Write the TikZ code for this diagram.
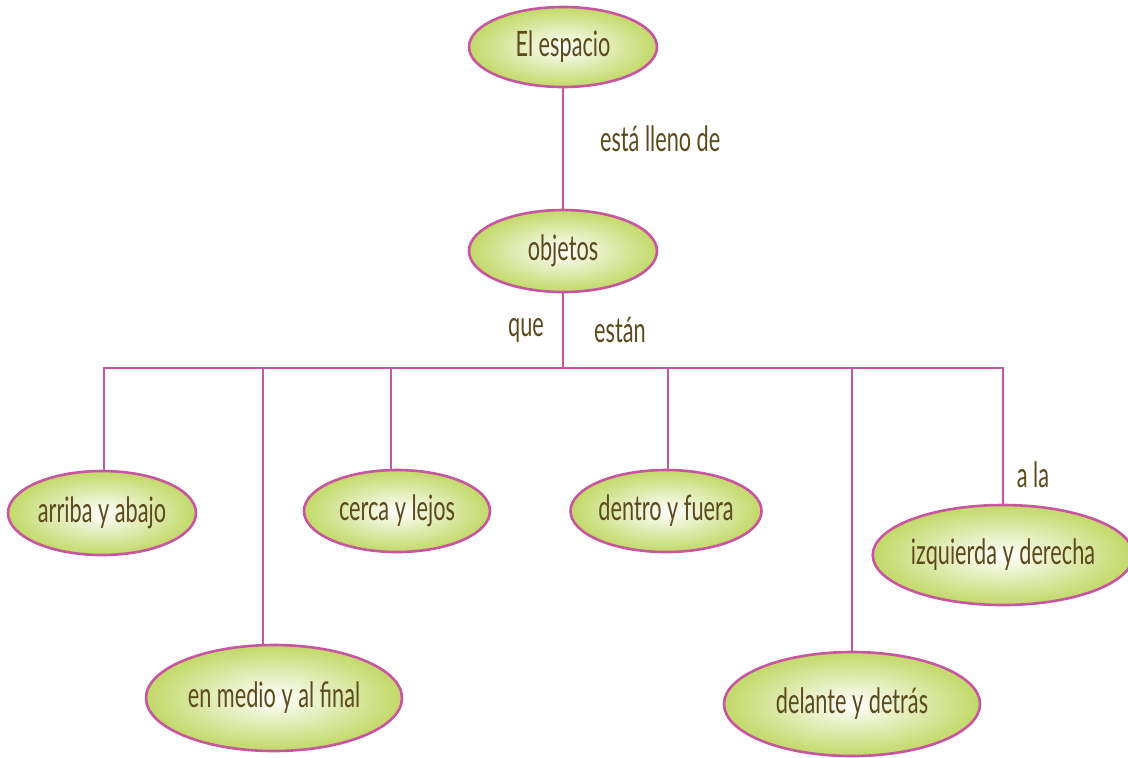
\documentclass[tikz,border=0pt]{standalone}
\usepackage{fontspec}
\setmainfont[FakeStretch=0.62]{Lato}
\usetikzlibrary{shapes.geometric}
\definecolor{rosa}{HTML}{C8559F}
\definecolor{lima}{HTML}{C2D968}
\definecolor{cafe}{HTML}{5B4A1C}
\tikzset{
  idea/.style={ellipse,draw=rosa,line width=1.3pt,shading=radial,
    inner color=white,outer color=lima,inner sep=0pt,
    text=cafe,font=\fontsize{17.5}{20}\selectfont},
  enlace/.style={text=cafe,font=\fontsize{17.5}{20}\selectfont},
  rama/.style={draw=rosa,line width=1.1pt}
}

\begin{document}
\begin{tikzpicture}[x=0.5pt,y=-0.5pt]
\useasboundingbox (0,0) rectangle (1128,757);
% Top of the map
\node[idea,minimum width=94pt,minimum height=40pt] (espacio) at (563,47) {El espacio};
\node[idea,minimum width=94pt,minimum height=41pt] (objetos) at (563,251) {objetos};
\draw[rama] (espacio) -- (objetos);
\node[enlace,anchor=west] (lleno) at (593,139) {está lleno de};
% Branch point under objetos
\coordinate (bus) at (563,368);
\draw[rama] (objetos) -- (bus);
\node[enlace] (que) at (526,330) {que};
\node[enlace] (estan) at (620,330) {están};
% Row of places
\node[idea,minimum width=94pt,minimum height=42pt] (arriba) at (102,513) {arriba y abajo};
\node[idea,minimum width=93pt,minimum height=41pt] (cerca) at (397,511) {cerca y lejos};
\node[idea,minimum width=93pt,minimum height=41pt] (dentro) at (666,511) {dentro y fuera};
\node[idea,minimum width=127pt,minimum height=50pt] (izquierda) at (1003,555) {izquierda y derecha};
\node[idea,minimum width=128pt,minimum height=53pt] (medio) at (274,698) {en medio y al final};
\node[idea,minimum width=128pt,minimum height=52pt] (delante) at (852,704) {delante y detrás};
% Drops from the bus
\draw[rama] ([xshift=1pt]arriba.north) |- (bus);
\draw[rama] ([xshift=-5.5pt]medio.north) |- (bus);
\draw[rama] ([xshift=-3pt]cerca.north) |- (bus);
\draw[rama] ([xshift=1pt]dentro.north) |- (bus);
\draw[rama] (delante.north) |- (bus);
\draw[rama] (izquierda.north) |- (bus);
\node[enlace] (ala) at (1033,475) {a la};
\end{tikzpicture}
\end{document}
